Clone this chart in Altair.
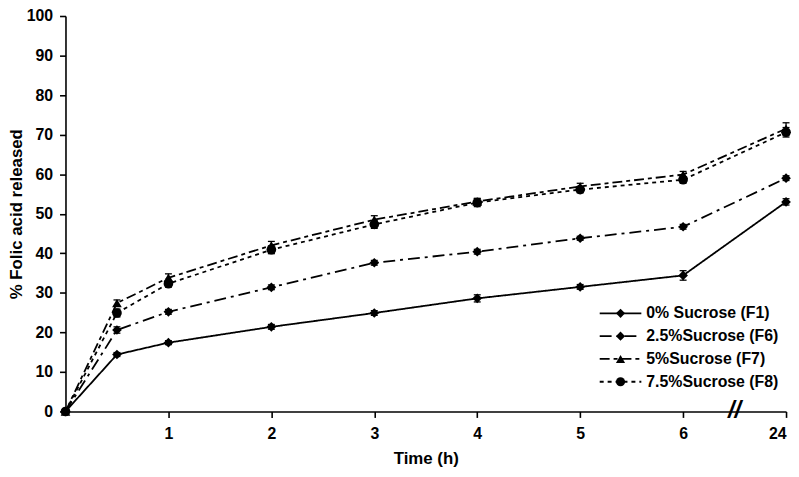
import altair as alt
import pandas as pd

FONT = "Liberation Sans"

time_h = [0, 0.5, 1, 2, 3, 4, 5, 6, 24]
series_names = ["0% Sucrose (F1)", "2.5%Sucrose (F6)", "5%Sucrose (F7)", "7.5%Sucrose (F8)"]

f1 = [0, 14.4, 17.4, 21.4, 24.9, 28.6, 31.5, 34.4, 53.0]
f6 = [0, 20.6, 25.2, 31.4, 37.6, 40.4, 43.8, 46.7, 59.0]
f7 = [0, 27.4, 33.8, 42.0, 48.5, 53.1, 56.9, 59.9, 71.5]
f8 = [0, 24.9, 32.3, 40.9, 47.3, 52.8, 56.1, 58.6, 70.6]

e1 = [0, 0.5, 0.5, 0.6, 0.6, 0.9, 0.6, 1.2, 0.8]
e6 = [0, 0.8, 0.6, 0.6, 0.6, 0.6, 0.5, 0.6, 0.6]
e7 = [0, 0.8, 1.0, 1.0, 1.0, 0.8, 0.8, 0.8, 1.5]
e8 = [0, 1.0, 0.8, 1.0, 1.0, 1.0, 0.8, 0.8, 1.2]

dash_patterns = [[1, 0], [12, 5, 3, 5], [10, 4, 4, 4], [4, 4]]
marker_shapes = ["diamond", "diamond", "triangle-up", "circle"]

x_tick_values = [1, 2, 3, 4, 5, 6, 7]
y_tick_values = list(range(0, 101, 10))
break_pos = [6.5]

rows = []
for name, vals, errs in zip(series_names, [f1, f6, f7, f8], [e1, e6, e7, e8]):
    for t, v, e in zip(time_h, vals, errs):
        rows.append({"time": t, "series": name, "value": v, "lo": v - e, "hi": v + e})
df = pd.DataFrame(rows)

X_AXIS = alt.Axis(
    values=x_tick_values,
    labelExpr="datum.value == 7 ? '24' : format(datum.value, 'd')",
    title="Time (h)",
    labelPadding=8,
    titlePadding=10,
    labelOverlap=False,
)
Y_AXIS = alt.Axis(
    values=y_tick_values,
    format="d",
    title="% Folic acid released",
    labelPadding=7,
    titlePadding=1,
    labelOverlap=False,
)
X_SCALE = alt.Scale(domain=[0, 7], nice=False, zero=False)
Y_SCALE = alt.Scale(domain=[0, 100], nice=False)


def xe():
    return alt.X("pos:Q", scale=X_SCALE, axis=X_AXIS, title="Time (h)")


def ye(field):
    return alt.Y(f"{field}:Q", scale=Y_SCALE, axis=Y_AXIS, title="% Folic acid released")


base = alt.Chart(df).transform_calculate(
    pos="datum.time == 24 ? 7 : datum.time",
    shape_key="'m' + datum.series",
)

err_rule = base.mark_rule(color="black", strokeWidth=1.3).encode(
    x=xe(), y=ye("lo"), y2="hi:Q"
)
cap_lo = base.mark_tick(color="black", orient="horizontal", size=7, thickness=1.3, opacity=1).encode(
    x=xe(), y=ye("lo")
)
cap_hi = base.mark_tick(color="black", orient="horizontal", size=7, thickness=1.3, opacity=1).encode(
    x=xe(), y=ye("hi")
)

lines = base.mark_line(color="black", strokeWidth=1.8, clip=False).encode(
    x=xe(),
    y=ye("value"),
    strokeDash=alt.StrokeDash(
        "series:N",
        scale=alt.Scale(domain=series_names, range=dash_patterns),
        legend=alt.Legend(
            orient="none", legendX=538, legendY=292, title=None,
            symbolType="stroke", symbolSize=1764, symbolStrokeWidth=1.8,
            symbolStrokeColor="black", clipHeight=16, rowPadding=7,
            labelFont=FONT, labelFontSize=16, labelFontWeight="bold",
            labelColor="black", labelOffset=4, padding=0, symbolOffset=0,
        ),
    ),
)

points = base.mark_point(filled=True, color="black", opacity=1, size=95, clip=False).encode(
    x=xe(),
    y=ye("value"),
    shape=alt.Shape(
        "shape_key:N",
        scale=alt.Scale(domain=["m" + s for s in series_names], range=marker_shapes),
        legend=alt.Legend(
            orient="none", legendX=552, legendY=292, title=None,
            symbolSize=85, symbolFillColor="black", symbolStrokeColor="black",
            symbolStrokeWidth=0, clipHeight=16, rowPadding=7,
            labelExpr="''", labelFontSize=16, padding=0, symbolOffset=0,
        ),
    ),
)

brk = alt.Chart(pd.DataFrame({"pos": break_pos, "value": [0], "txt": ["//"]})).mark_text(
    font=FONT, fontSize=24, fontWeight="bold", fontStyle="italic", color="black",
    align="center", baseline="middle"
).encode(x=xe(), y=ye("value"), text="txt:N")

chart = (
    alt.layer(err_rule, cap_lo, cap_hi, lines, points, brk)
    .properties(
        width=727,
        height=399,
        autosize=alt.AutoSizeParams(type="none"),
        padding={"left": 58, "top": 6, "right": 5, "bottom": 60},
    )
    .configure_view(stroke=None)
    .configure_axis(
        grid=False,
        domainColor="black",
        domainWidth=1.6,
        tickColor="black",
        tickWidth=1.6,
        tickSize=6,
        labelFont=FONT,
        labelFontSize=16,
        labelFontWeight="bold",
        labelColor="black",
        titleFont=FONT,
        titleFontSize=17,
        titleFontWeight="bold",
        titleColor="black",
    )
)

chart.save("out.html", embed_options={"renderer": "svg", "actions": False})
